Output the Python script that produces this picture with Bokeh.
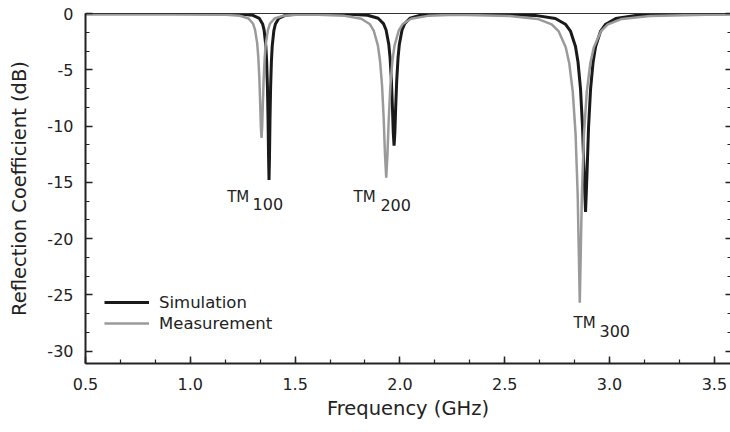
from bokeh.plotting import figure
from bokeh.models import (LinearAxis, Range1d, Legend, LegendItem, ColumnDataSource,
                          SingleIntervalTicker, NumeralTickFormatter, FixedTicker)
from bokeh.core.properties import value
from bokeh.embed import file_html
from bokeh.resources import INLINE

# ---- data (frequency in GHz, reflection coefficient in dB) ----
sim_freq = [0.5, 0.9,
            1.2375, 1.299, 1.3295, 1.3449, 1.3525, 1.3602, 1.364, 1.3678, 1.3709, 1.3732, 1.3755,
            1.3778, 1.3801, 1.3832, 1.387, 1.3908, 1.3985, 1.4061, 1.4215, 1.452, 1.5135,
            1.63,
            1.7443, 1.8455, 1.8961, 1.9214, 1.934, 1.9467, 1.953, 1.9593, 1.9644, 1.9682, 1.972,
            1.9758, 1.9796, 1.9847, 1.991, 1.9973, 2.01, 2.0226, 2.0479, 2.0985, 2.1997,
            2.33,
            2.4535, 2.6455, 2.7415, 2.7895, 2.8135, 2.8375, 2.8495, 2.8615, 2.8711, 2.8783, 2.8855,
            2.8927, 2.8999, 2.9095, 2.9215, 2.9335, 2.9575, 2.9815, 3.0295, 3.1255, 3.3175,
            3.6]
sim_db = [0.0, -0.01,
          -0.052, -0.165, -0.44, -0.93, -1.53, -2.87, -4.19, -6.45, -9.47, -12.65, -14.8,
          -12.65, -9.47, -6.45, -4.19, -2.87, -1.53, -0.93, -0.44, -0.165, -0.052,
          -0.03,
          -0.05, -0.159, -0.425, -0.90, -1.47, -2.73, -3.95, -5.96, -8.42, -10.59, -11.75,
          -10.59, -8.42, -5.96, -3.95, -2.73, -1.47, -0.90, -0.425, -0.159, -0.05,
          -0.03,
          -0.052, -0.168, -0.45, -0.95, -1.56, -2.94, -4.31, -6.70, -10.07, -14.10, -17.63,
          -14.10, -10.07, -6.70, -4.31, -2.94, -1.56, -0.95, -0.45, -0.168, -0.052,
          -0.02]

meas_freq = [0.5, 1.0,
             1.1552, 1.2372, 1.2782, 1.2987, 1.3089, 1.3192, 1.3243, 1.3294, 1.3335, 1.3366, 1.3397,
             1.3428, 1.3459, 1.35, 1.3551, 1.3602, 1.3705, 1.3807, 1.4012, 1.4422, 1.5242,
             1.55,
             1.5782, 1.7366, 1.8158, 1.8554, 1.8752, 1.895, 1.9049, 1.9148, 1.9227, 1.9287, 1.9346,
             1.9405, 1.9465, 1.9544, 1.9643, 1.9742, 1.994, 2.0138, 2.0534, 2.1326,
             2.27,
             2.523, 2.657, 2.724, 2.7575, 2.791, 2.8077, 2.8245, 2.8379, 2.848, 2.8533, 2.858,
             2.8627, 2.868, 2.8781, 2.8915, 2.9083, 2.925, 2.9585, 2.992, 3.059, 3.193, 3.461,
             3.6]
meas_db = [-0.08, -0.08,
           -0.10, -0.21, -0.45, -0.885, -1.45, -2.68, -3.87, -5.80, -8.11, -10.05, -11.05,
           -10.05, -8.11, -5.80, -3.87, -2.68, -1.45, -0.885, -0.45, -0.21, -0.10,
           -0.10,
           -0.10, -0.21, -0.47, -0.93, -1.53, -2.86, -4.18, -6.42, -9.42, -12.52, -14.6,
           -12.52, -9.42, -6.42, -4.18, -2.86, -1.53, -0.93, -0.47, -0.21,
           -0.12,
           -0.22, -0.48, -0.97, -1.59, -3.00, -4.42, -6.94, -10.70, -16.08, -21.22, -25.7,
           -21.22, -16.08, -10.70, -6.94, -4.42, -3.00, -1.59, -0.97, -0.48, -0.22, -0.10,
           -0.08]

# mode labels (TM + subscript index), annotation anchor positions in data units
mode_main = ["TM", "TM", "TM"]
mode_sub = ["100", "200", "300"]
mode_x = [1.176, 1.779, 2.828]
mode_y = [-16.27, -16.3, -27.5]
sub_x = [1.297, 1.907, 2.952]
sub_y = [-16.92, -17.0, -28.2]

FONT = "DejaVu Sans"
INK = "#222222"

p = figure(width=730, height=425, x_range=Range1d(0.5, 3.577), y_range=Range1d(-31.1, 0.0),
           output_backend="svg", toolbar_location=None,
           min_border_left=85, min_border_right=0, min_border_top=13, min_border_bottom=62,
           x_axis_label="Frequency (GHz)", y_axis_label="Reflection Coefficient (dB)")
p.grid.visible = False
p.outline_line_color = None
p.background_fill_color = "white"

bottom = p.below[0]
left = p.left[0]

r_sim = p.line(sim_freq, sim_db, line_color="#1a1a1a", line_width=3)
r_meas = p.line(meas_freq, meas_db, line_color="#9a9a9a", line_width=2.5)

bottom.ticker = SingleIntervalTicker(interval=0.5, num_minor_ticks=3)
left.ticker = SingleIntervalTicker(interval=5, num_minor_ticks=3)
bottom.formatter = NumeralTickFormatter(format="0.0")
left.formatter = NumeralTickFormatter(format="0")

right_ticks = [-30, -25, -20, -15, -10, -5, 0]
right = LinearAxis(ticker=SingleIntervalTicker(interval=5, num_minor_ticks=3),
                   major_label_overrides={t: "" for t in right_ticks},
                   major_label_standoff=0)
top = LinearAxis(ticker=FixedTicker(ticks=[]), major_label_standoff=0)
p.add_layout(right, "right")
p.add_layout(top, "above")

for ax in [bottom, left]:
    ax.axis_line_color = INK
    ax.axis_line_width = 2
    ax.major_tick_line_color = INK
    ax.major_tick_line_width = 1.5
    ax.major_tick_in = 7
    ax.major_tick_out = 0
    ax.minor_tick_line_color = INK
    ax.minor_tick_line_width = 1.2
    ax.minor_tick_in = 4
    ax.minor_tick_out = 0
    ax.major_label_text_font = FONT
    ax.major_label_text_font_size = "16px"
    ax.major_label_text_color = INK
    ax.major_label_standoff = 12
    ax.axis_label_text_font = FONT
    ax.axis_label_text_font_size = "19.5px"
    ax.axis_label_text_font_style = "normal"
    ax.axis_label_text_color = INK
bottom.major_label_standoff = 14
bottom.axis_label_standoff = 4
left.axis_label_standoff = 13

right.axis_line_color = None
right.major_tick_line_color = INK
right.major_tick_line_width = 1.5
right.major_tick_in = 5
right.major_tick_out = 0
right.minor_tick_line_color = INK
right.minor_tick_line_width = 1.2
right.minor_tick_in = 3
right.minor_tick_out = 0

top.axis_line_color = "#333333"
top.axis_line_width = 1.2
top.major_tick_line_color = None
top.minor_tick_line_color = None
top.major_tick_in = 0
top.major_tick_out = 0
top.minor_tick_in = 0
top.minor_tick_out = 0

src_main = ColumnDataSource(dict(x=mode_x, y=mode_y, t=mode_main))
src_sub = ColumnDataSource(dict(x=sub_x, y=sub_y, t=mode_sub))
p.text(x="x", y="y", text="t", source=src_main, text_font=value(FONT),
       text_font_size=value("15px"), text_color=INK, text_align="left",
       text_baseline="alphabetic")
p.text(x="x", y="y", text="t", source=src_sub, text_font=value(FONT),
       text_font_size=value("16px"), text_color=INK, text_align="left",
       text_baseline="alphabetic")

legend = Legend(items=[LegendItem(label="Simulation", renderers=[r_sim]),
                       LegendItem(label="Measurement", renderers=[r_meas])],
                location=(19, 30), glyph_width=45, glyph_height=20, label_height=20,
                label_standoff=10, spacing=1, padding=0, margin=0,
                border_line_color=None, background_fill_alpha=0,
                label_text_font=FONT, label_text_font_size="16.5px", label_text_color=INK)
p.add_layout(legend, "center")

open("out.html", "w").write(file_html(p, INLINE))
